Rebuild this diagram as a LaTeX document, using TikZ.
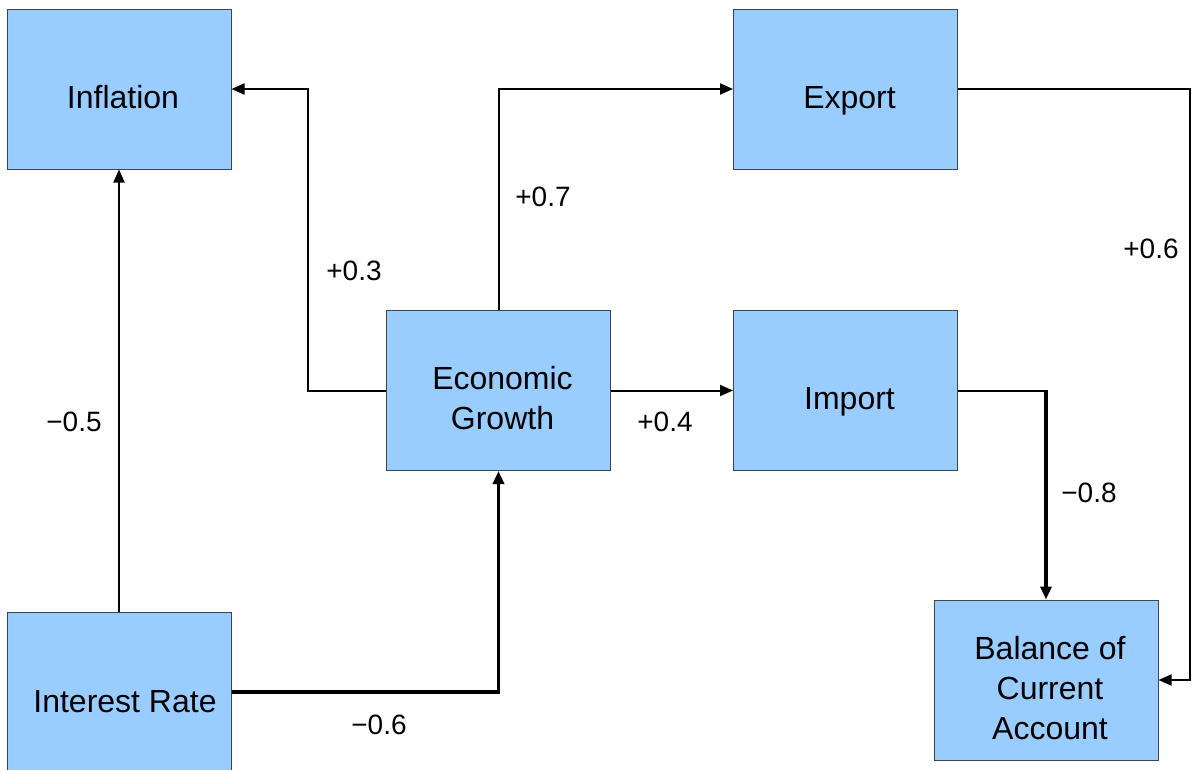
\documentclass[tikz,border=0pt]{standalone}
\usepackage{fontspec}
\setmainfont{Liberation Sans}
\usetikzlibrary{arrows.meta}
\definecolor{boxfill}{RGB}{153,204,255}
\definecolor{boxline}{RGB}{60,70,80}
\newcommand{\boxtext}[1]{\kern8pt\raisebox{-11pt}[\height][\depth]{\begin{tabular}{@{}c@{}}#1\end{tabular}}}
\begin{document}
\begin{tikzpicture}[x=1pt,y=-1pt,
  box/.style={draw=boxline, line width=1pt, fill=boxfill, minimum width=224pt, minimum height=160pt, inner sep=0pt, font=\fontsize{32}{40}\selectfont},
  conn/.style={line width=2pt, -{Triangle[length=13pt,width=11pt]}},
  lbl/.style={font=\fontsize{28}{32}\selectfont, inner sep=0pt}]
\useasboundingbox (0,0) rectangle (1192,769);
\clip (0,0) rectangle (1192,769);
\node[box] (inf) at (119,89) {\boxtext{Inflation}};
\node[box] (exp) at (845.5,89) {\boxtext{Export}};
\node[box] (eg) at (498.5,390.5) {\boxtext{Economic\\Growth}};
\node[box] (imp) at (845.5,390.5) {\boxtext{Import}};
\node[box, minimum height=180pt] (ir) at (119,702) {\kern12pt Interest Rate};
\node[box] (bca) at (1046,680) {\boxtext{Balance of\\Current\\Account}};
% connectors
\draw[conn] (ir.north) -- (inf.south);
\draw[conn, line width=3.5pt] ([yshift=10pt]ir.east) -| (eg.south);
\draw[conn] (eg.west) -- ++(-78,0) |- (inf.east);
\draw[conn] (eg.north) |- (exp.west);
\draw[conn] (eg.east) -- (imp.west);
\draw[conn] (exp.east) -- ++(232,0) |- (bca.east);
\coordinate (corner) at (imp.east -| bca.north);
\draw[line width=2pt] (imp.east) -- ([xshift=1.5pt]corner);
\draw[conn, line width=3.2pt] ([yshift=1pt]corner) -- (bca.north);
% labels
\node[lbl] (l1) at (74,422) {−0.5};
\node[lbl] (l2) at (379,725) {−0.6};
\node[lbl] (l3) at (354,271) {+0.3};
\node[lbl] (l4) at (543,197) {+0.7};
\node[lbl] (l5) at (665,422) {+0.4};
\node[lbl] (l6) at (1151,249) {+0.6};
\node[lbl] (l7) at (1089,493) {−0.8};
\end{tikzpicture}
\end{document}
